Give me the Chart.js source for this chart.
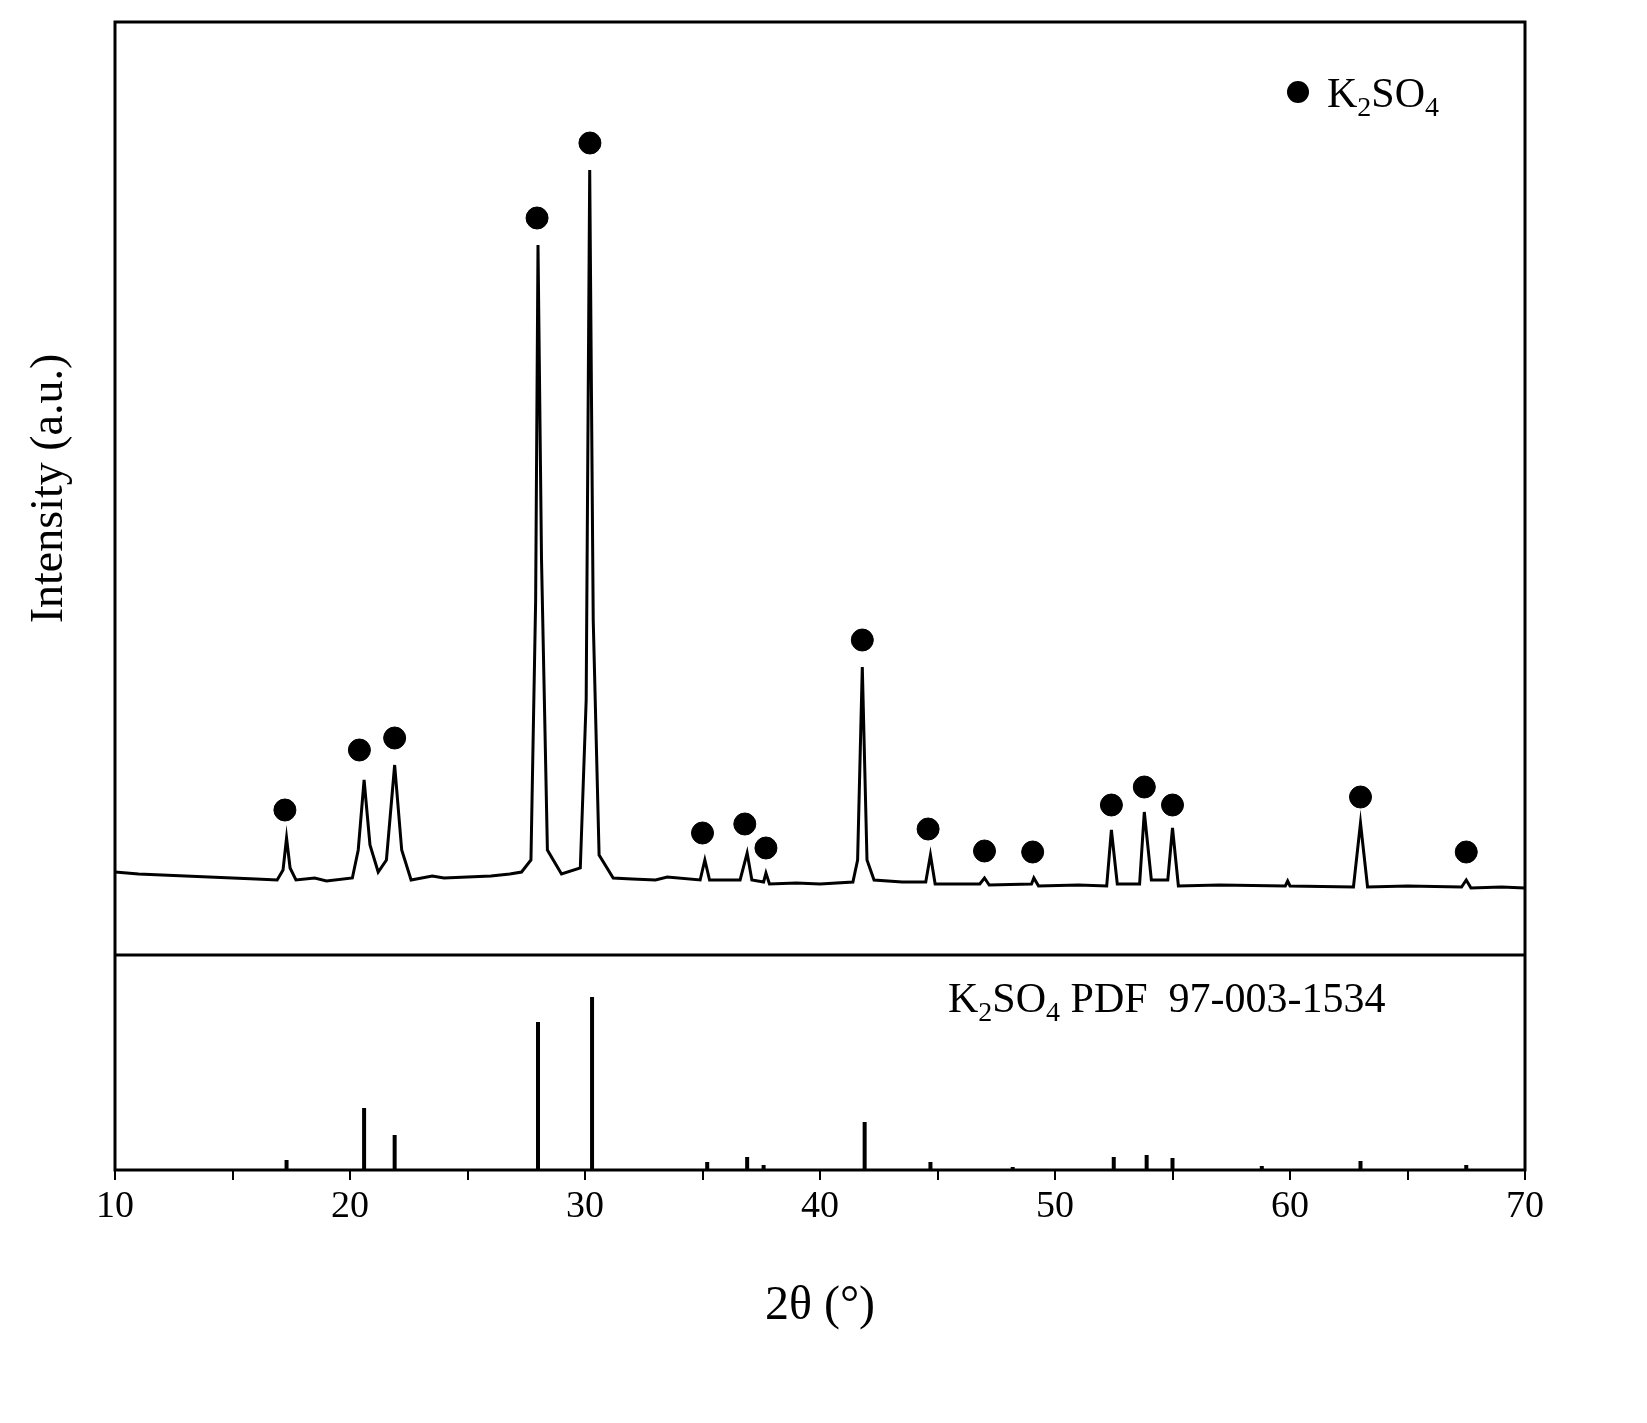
<!DOCTYPE html>
<html>
<head>
<meta charset="utf-8">
<script src="https://cdn.jsdelivr.net/npm/chart.js@4"></script>
<style>
  html, body { margin: 0; padding: 0; background: #fff; }
  #wrap { width: 1647px; height: 1423px; }
</style>
</head>
<body>
<div id="wrap"><canvas id="xrd"></canvas></div>
<script>
// measured pattern (2theta, intensity)
let angle = [10, 11, 12, 13, 14, 15, 16, 16.9, 17.15, 17.3, 17.45, 17.7, 18.5, 19, 20.1, 20.35, 20.6, 20.85, 21.2, 21.55, 21.9, 22.2, 22.6,
  23.5, 24, 25, 26, 26.8, 27.3, 27.7, 27.9, 28.0, 28.15, 28.4, 29.0, 29.8, 30.05, 30.2, 30.35, 30.6, 31.2, 32, 33, 33.5, 34.9, 35.1, 35.3,
  36.6, 36.9, 37.1, 37.6, 37.7, 37.85, 39, 40, 41.4, 41.6, 41.8, 42.0, 42.3, 43.5, 44.5, 44.7, 44.9, 46.8, 47.0, 47.2,
  49.0, 49.1, 49.3, 51, 52.2, 52.4, 52.65, 53.6, 53.8, 54.1, 54.8, 55.0, 55.25, 57, 59.8, 59.9, 60, 62.7, 63.0, 63.3,
  65, 67.3, 67.5, 67.7, 69, 70];
let intensity = [83, 81, 80, 79, 78, 77, 76, 75, 85, 117, 87, 75, 77, 74, 77, 105, 175, 110, 83, 95, 190, 105, 75,
  79, 77, 78, 79, 81, 83, 95, 355, 710, 395, 105, 81, 87, 255, 785, 335, 100, 77, 76, 75, 78, 75, 95, 75,
  75, 102, 75, 73, 82, 71, 72, 71, 73, 95, 288, 95, 75, 73, 73, 100, 71, 71, 77, 70,
  71, 77, 69, 70, 69, 125, 71, 71, 143, 75, 75, 127, 69, 70, 69, 74, 69, 68, 132, 68,
  69, 68, 75, 67, 68, 67];

// peak markers
let markAngle = [17.23, 20.4, 21.9, 27.96, 30.21, 35.0, 36.8, 37.7, 41.8, 44.6, 47.0, 49.05, 52.4, 53.8, 55.0, 63.0, 67.5];
let markHeight = [145, 205, 217, 737, 812, 122, 131, 107, 315, 126, 104, 103, 150, 168, 150, 158, 103];

// reference card PDF 97-003-1534
let refAngle = [17.3, 20.6, 21.9, 28.0, 30.3, 35.2, 36.9, 37.6, 41.9, 44.7, 48.2, 52.5, 53.9, 55.0, 58.8, 63.0, 67.5];
let refHeight = [10, 62, 35, 148, 173, 8, 13, 5, 48, 8, 3, 13, 15, 12, 4, 9, 5];

let xTicks = [10, 20, 30, 40, 50, 60, 70];

let curve = angle.map((a, i) => ({ x: a, y: intensity[i] }));
let marks = markAngle.map((a, i) => ({ x: a, y: markHeight[i] }));
let sticks = [];
refAngle.forEach((a, i) => {
  sticks.push({ x: a, y: 0 }, { x: a, y: refHeight[i] }, { x: a, y: null });
});

const serif = "'Liberation Serif', 'DejaVu Serif', serif";

const framePlugin = {
  id: "frame",
  afterDraw(chart) {
    const ctx = chart.ctx;
    const a = chart.chartArea;
    ctx.save();
    ctx.strokeStyle = "#000";
    ctx.lineWidth = 3;
    ctx.strokeRect(a.left, a.top, a.right - a.left, a.bottom - a.top);
    const top = chart.scales.yTop;
    ctx.beginPath();
    ctx.moveTo(a.left, top.bottom);
    ctx.lineTo(a.right, top.bottom);
    ctx.stroke();

    ctx.fillStyle = "#000";
    // legend
    ctx.beginPath();
    ctx.arc(1298, 92, 11, 0, Math.PI * 2);
    ctx.fill();
    ctx.textBaseline = "alphabetic";
    let x = 1327;
    const big = "42px " + serif, small = "28px " + serif;
    const parts = (list, y) => {
      list.forEach(([t, f, dy]) => {
        ctx.font = f;
        ctx.fillText(t, x, y + dy);
        x += ctx.measureText(t).width;
      });
    };
    parts([["K", big, 0], ["2", small, 9], ["SO", big, 0], ["4", small, 9]], 107);
    x = 948;
    parts([["K", big, 0], ["2", small, 9], ["SO", big, 0], ["4", small, 9], [" PDF  97-003-1534", big, 0]], 1012);
    ctx.restore();
  },
};

new Chart(document.getElementById("xrd"), {
  type: "line",
  data: {
    datasets: [
      {
        data: curve,
        yAxisID: "yTop",
        borderColor: "#000",
        borderWidth: 3,
        pointRadius: 0,
        tension: 0,
      },
      {
        type: "scatter",
        data: marks,
        yAxisID: "yTop",
        backgroundColor: "#000",
        borderColor: "#000",
        pointRadius: 11,
        showLine: false,
      },
      {
        data: sticks,
        yAxisID: "yBottom",
        borderColor: "#000",
        borderWidth: 4,
        pointRadius: 0,
        spanGaps: false,
      },
    ],
  },
  options: {
    responsive: true,
    maintainAspectRatio: false,
    animation: false,
    layout: { padding: { top: 22, right: 122, left: 0, bottom: 0 } },
    plugins: { legend: { display: false }, tooltip: { enabled: false } },
    scales: {
      x: {
        type: "linear",
        min: 10,
        max: 70,
        afterBuildTicks: (s) => {
          s.ticks = [];
          for (let v = 10; v <= 70; v += 5) s.ticks.push({ value: v });
        },
        afterFit: (s) => { s.height = 253; },
        border: { display: false },
        grid: { drawOnChartArea: false, drawTicks: true, tickLength: 10, color: "#000", lineWidth: 2 },
        ticks: {
          color: "#000",
          font: { family: serif, size: 38 },
          padding: 4,
          maxRotation: 0,
          autoSkip: false,
          callback: (v) => (xTicks.includes(v) ? v : ""),
        },
        title: {
          display: true,
          text: "2θ (°)",
          color: "#000",
          font: { family: serif, size: 48 },
          padding: { top: 88, bottom: 88 },
        },
      },
      yBottom: {
        type: "linear",
        position: "left",
        stack: "xrd",
        stackWeight: 215,
        offset: false,
        min: 0,
        max: 215,
        afterFit: (s) => { s.width = 115; },
        border: { display: false },
        grid: { display: false },
        ticks: { display: false },
      },
      yTop: {
        type: "linear",
        position: "left",
        stack: "xrd",
        stackWeight: 933,
        offset: false,
        min: 0,
        max: 933,
        afterFit: (s) => { s.width = 115; },
        border: { display: false },
        grid: { display: false },
        ticks: { display: false },
        title: {
          display: true,
          text: "Intensity (a.u.)",
          color: "#000",
          font: { family: serif, size: 46 },
          padding: { top: 22, bottom: 22 },
        },
      },
    },
  },
  plugins: [framePlugin],
});
</script>
</body>
</html>
